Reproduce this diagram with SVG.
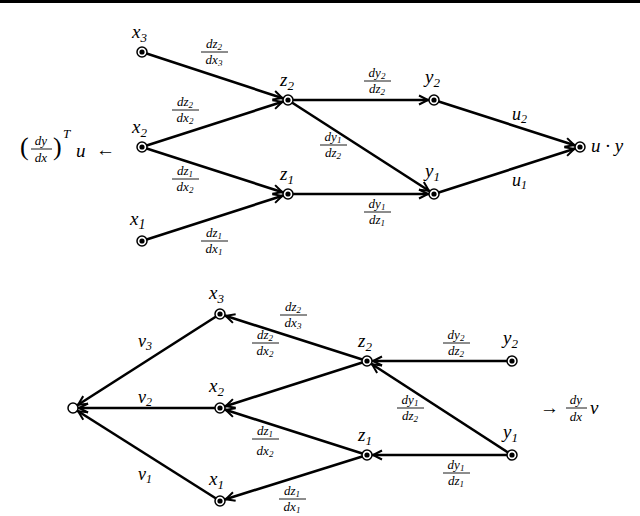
<svg xmlns="http://www.w3.org/2000/svg" width="640" height="516" viewBox="0 0 640 516">
<style>
text{font-family:"Liberation Serif","DejaVu Serif",serif;font-style:italic;fill:#000}
.n{font-size:19px}.f{font-size:13px;text-anchor:middle}.l{font-size:18px}
.e{stroke:#000;stroke-width:2.6;fill:none;marker-end:url(#a)}
.fl{stroke:#000;stroke-width:0.9}
.nd circle.o{fill:#fff;stroke:#000;stroke-width:1.5}
</style>
<defs>
<marker id="a" markerUnits="userSpaceOnUse" markerWidth="20" markerHeight="20" viewBox="-12 -8 20 16" refX="6" refY="0" orient="auto">
<path d="M-9,-4.5 L0,0 L-9,4.5" fill="none" stroke="#000" stroke-width="2"/>
</marker>
<g id="dot"><circle r="5" fill="#fff" stroke="#000" stroke-width="1.5"/><circle r="2.6" fill="#000"/></g>
</defs>
<rect x="0" y="0" width="640" height="3" fill="#000"/>
<g id="connectors">
<line class="e" x1="142" y1="52" x2="288" y2="100"/>
<line class="e" x1="142" y1="147" x2="288" y2="100"/>
<line class="e" x1="142" y1="147" x2="288" y2="194"/>
<line class="e" x1="142" y1="241" x2="288" y2="194"/>
<line class="e" x1="288" y1="100" x2="434" y2="100"/>
<line class="e" x1="288" y1="100" x2="434" y2="194"/>
<line class="e" x1="288" y1="194" x2="434" y2="194"/>
<line class="e" x1="434" y1="100" x2="580" y2="147"/>
<line class="e" x1="434" y1="194" x2="580" y2="147"/>
<line class="e" x1="367" y1="361" x2="220" y2="314"/>
<line class="e" x1="367" y1="361" x2="220" y2="408"/>
<line class="e" x1="367" y1="455" x2="220" y2="408"/>
<line class="e" x1="367" y1="455" x2="220" y2="501"/>
<line class="e" x1="512" y1="361" x2="367" y2="361"/>
<line class="e" x1="512" y1="455" x2="367" y2="361"/>
<line class="e" x1="512" y1="455" x2="367" y2="455"/>
<line class="e" x1="220" y1="314" x2="73" y2="408"/>
<line class="e" x1="220" y1="408" x2="73" y2="408"/>
<line class="e" x1="220" y1="501" x2="73" y2="408"/>
</g>
<g id="edge-labels">
<text class="f" x="214" y="48">dz<tspan font-size="9" dy="2">2</tspan></text><line class="fl" x1="201" y1="52" x2="228" y2="52"/><text class="f" x="214" y="64">dx<tspan font-size="9" dy="2">3</tspan></text>
<text class="f" x="185" y="106">dz<tspan font-size="9" dy="2">2</tspan></text><line class="fl" x1="172" y1="110" x2="199" y2="110"/><text class="f" x="185" y="122">dx<tspan font-size="9" dy="2">2</tspan></text>
<text class="f" x="185" y="175">dz<tspan font-size="9" dy="2">1</tspan></text><line class="fl" x1="172" y1="179" x2="199" y2="179"/><text class="f" x="185" y="191">dx<tspan font-size="9" dy="2">2</tspan></text>
<text class="f" x="214" y="237">dz<tspan font-size="9" dy="2">1</tspan></text><line class="fl" x1="201" y1="241" x2="228" y2="241"/><text class="f" x="214" y="253">dx<tspan font-size="9" dy="2">1</tspan></text>
<text class="f" x="377" y="77">dy<tspan font-size="9" dy="2">2</tspan></text><line class="fl" x1="364" y1="81" x2="391" y2="81"/><text class="f" x="377" y="93">dz<tspan font-size="9" dy="2">2</tspan></text>
<text class="f" x="333" y="141">dy<tspan font-size="9" dy="2">1</tspan></text><line class="fl" x1="320" y1="145" x2="347" y2="145"/><text class="f" x="333" y="157">dz<tspan font-size="9" dy="2">2</tspan></text>
<text class="f" x="377" y="208">dy<tspan font-size="9" dy="2">1</tspan></text><line class="fl" x1="364" y1="212" x2="391" y2="212"/><text class="f" x="377" y="224">dz<tspan font-size="9" dy="2">1</tspan></text>
<text class="l" x="512" y="120">u<tspan font-size="12" dy="3">2</tspan></text>
<text class="l" x="512" y="186">u<tspan font-size="12" dy="3">1</tspan></text>
<text class="f" x="293" y="311">dz<tspan font-size="9" dy="2">2</tspan></text><line class="fl" x1="280" y1="315" x2="307" y2="315"/><text class="f" x="293" y="327">dx<tspan font-size="9" dy="2">3</tspan></text>
<text class="f" x="265" y="339">dz<tspan font-size="9" dy="2">2</tspan></text><line class="fl" x1="252" y1="343" x2="279" y2="343"/><text class="f" x="265" y="355">dx<tspan font-size="9" dy="2">2</tspan></text>
<text class="f" x="265" y="435">dz<tspan font-size="9" dy="2">1</tspan></text><line class="fl" x1="252" y1="439" x2="279" y2="439"/><text class="f" x="265" y="455">dx<tspan font-size="9" dy="2">2</tspan></text>
<text class="f" x="292" y="495">dz<tspan font-size="9" dy="2">1</tspan></text><line class="fl" x1="279" y1="499" x2="306" y2="499"/><text class="f" x="292" y="511">dx<tspan font-size="9" dy="2">1</tspan></text>
<text class="f" x="456" y="339">dy<tspan font-size="9" dy="2">2</tspan></text><line class="fl" x1="443" y1="343" x2="470" y2="343"/><text class="f" x="456" y="355">dz<tspan font-size="9" dy="2">2</tspan></text>
<text class="f" x="410" y="404">dy<tspan font-size="9" dy="2">1</tspan></text><line class="fl" x1="397" y1="408" x2="424" y2="408"/><text class="f" x="410" y="420">dz<tspan font-size="9" dy="2">2</tspan></text>
<text class="f" x="456" y="469">dy<tspan font-size="9" dy="2">1</tspan></text><line class="fl" x1="443" y1="473" x2="470" y2="473"/><text class="f" x="456" y="485">dz<tspan font-size="9" dy="2">1</tspan></text>
<text class="l" x="138" y="347">v<tspan font-size="12" dy="3">3</tspan></text>
<text class="l" x="138" y="403">v<tspan font-size="12" dy="3">2</tspan></text>
<text class="l" x="138" y="480">v<tspan font-size="12" dy="3">1</tspan></text>
</g>
<g id="x3t" class="nd"><use href="#dot" x="142" y="52"/><text class="n" x="132" y="38">x<tspan font-size="13" dy="4">3</tspan></text></g>
<g id="x2t" class="nd"><use href="#dot" x="142" y="147"/><text class="n" x="132" y="133">x<tspan font-size="13" dy="4">2</tspan></text></g>
<g id="x1t" class="nd"><use href="#dot" x="142" y="241"/><text class="n" x="130" y="225" font-size="21">x<tspan font-size="14" dy="4">1</tspan></text></g>
<g id="z2t" class="nd"><use href="#dot" x="288" y="100"/><text class="n" x="280" y="86">z<tspan font-size="13" dy="4">2</tspan></text></g>
<g id="z1t" class="nd"><use href="#dot" x="288" y="194"/><text class="n" x="280" y="180">z<tspan font-size="13" dy="4">1</tspan></text></g>
<g id="y2t" class="nd"><use href="#dot" x="434" y="100"/><text class="n" x="425" y="83">y<tspan font-size="13" dy="4">2</tspan></text></g>
<g id="y1t" class="nd"><use href="#dot" x="434" y="194"/><text class="n" x="425" y="177">y<tspan font-size="13" dy="4">1</tspan></text></g>
<g id="out" class="nd"><use href="#dot" x="580" y="147"/><text class="n" x="591" y="152">u · y</text></g>
<g id="left-label"><text class="n" x="20" y="155"><tspan font-style="normal" font-size="26">(</tspan></text>
<text class="f" x="41" y="145">dy</text><line class="fl" x1="31" y1="149" x2="52" y2="149"/><text class="f" x="41" y="162">dx</text>
<text class="n" x="53" y="155"><tspan font-style="normal" font-size="26">)</tspan></text>
<text x="63" y="138" font-size="13">T</text>
<text class="n" x="76" y="157">u</text>
<text class="n" x="96" y="156" font-style="normal">←</text></g>
<g id="vout" class="nd"><circle class="o" cx="73" cy="408" r="5"/></g>
<g id="x3b" class="nd"><use href="#dot" x="220" y="314"/><text class="n" x="209" y="299">x<tspan font-size="13" dy="4">3</tspan></text></g>
<g id="x2b" class="nd"><use href="#dot" x="220" y="408"/><text class="n" x="209" y="392">x<tspan font-size="13" dy="4">2</tspan></text></g>
<g id="x1b" class="nd"><use href="#dot" x="220" y="501"/><text class="n" x="209" y="485">x<tspan font-size="13" dy="4">1</tspan></text></g>
<g id="z2b" class="nd"><use href="#dot" x="367" y="361"/><text class="n" x="358" y="347">z<tspan font-size="13" dy="4">2</tspan></text></g>
<g id="z1b" class="nd"><use href="#dot" x="367" y="455"/><text class="n" x="358" y="441">z<tspan font-size="13" dy="4">1</tspan></text></g>
<g id="y2b" class="nd"><use href="#dot" x="512" y="361"/><text class="n" x="503" y="344">y<tspan font-size="13" dy="4">2</tspan></text></g>
<g id="y1b" class="nd"><use href="#dot" x="512" y="455"/><text class="n" x="503" y="438">y<tspan font-size="13" dy="4">1</tspan></text></g>
<g id="right-label"><text class="n" x="540" y="414" font-style="normal">→</text>
<text class="f" x="576" y="404">dy</text><line class="fl" x1="566" y1="408" x2="587" y2="408"/><text class="f" x="576" y="421">dx</text>
<text class="n" x="590" y="414">v</text></g>
</svg>
